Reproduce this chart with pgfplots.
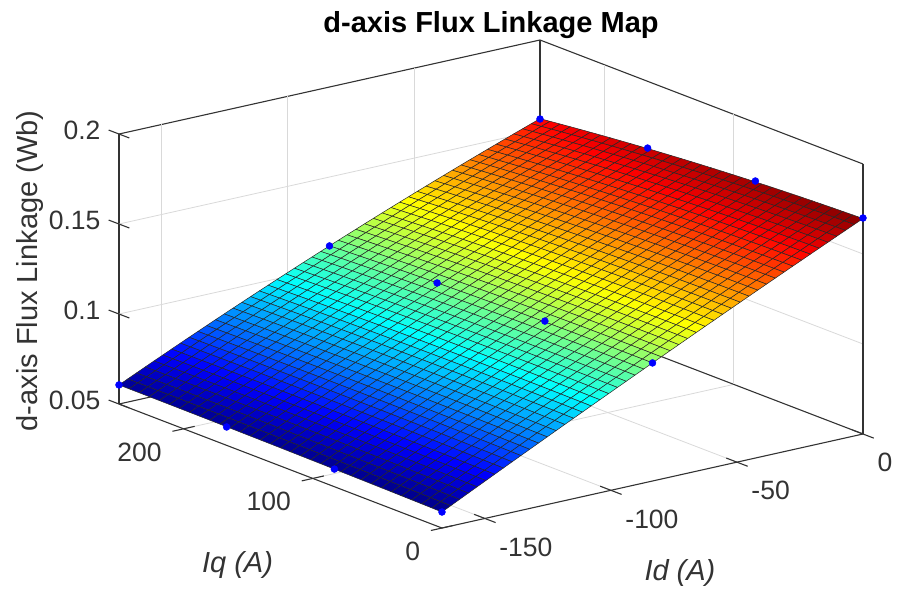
\documentclass[border=0pt]{standalone}
\usepackage{pgfplots}
\usepgfplotslibrary{patchplots}
\pgfplotsset{compat=1.18}
\usepackage{fontspec}
\setmainfont{Liberation Sans}
\definecolor{axc}{gray}{0.2}
\begin{document}
\begin{tikzpicture}[x=1pt,y=1pt]
\path[use as bounding box] (0,0) rectangle (898,590);
\begin{axis}[
  at={(863pt,156pt)},anchor=origin,
  x={(2.521pt,0.563pt)},y={(-1.292pt,0.496pt)},z={(0pt,1800pt)},
  xmin=-167,xmax=0,ymin=0,ymax=250,zmin=0.05,zmax=0.2,
  xtick={-150,-100,-50,0},ytick={0,100,200},ztick={0.05,0.1,0.15,0.2},
  xticklabels={-150,-100,-50,0},yticklabels={0,100,200},zticklabels={0.05,0.1,0.15,0.2},
  xtick pos=lower,ytick pos=lower,ztick pos=left,
  minor xtick={-150,-100,-50},minor ytick={100,200},minor ztick={0.1,0.15},
  grid=minor,minor grid style={gray!30,line width=0.8pt},minor tick length=0pt,
  axis line style={axc,line width=1.1pt},
  major tick style={draw=none},minor tick style={draw=none},
  tick align=center,major tick length=20pt,
  font=\fontsize{26.5}{30}\selectfont,
  tick label style={text=axc,inner sep=0pt},
  xticklabel style={anchor=west,xshift=5pt,yshift=-25pt},
  yticklabel style={anchor=east,xshift=-12pt,yshift=-21pt},
  zticklabel style={anchor=east,xshift=-9pt,yshift=0pt},
  title={d-axis Flux Linkage Map},
  title style={at={(axis cs:0,287.9,0.1945)},anchor=center,font=\fontsize{29}{32}\selectfont\bfseries},
  xlabel={\itshape Id (A)},ylabel={\itshape Iq (A)},zlabel={d-axis Flux Linkage (Wb)},
  every axis x label/.style={at={(axis cs:-72.6,0,-0.0043)},anchor=center,text=axc,font=\fontsize{29}{32}\selectfont},
  every axis y label/.style={at={(axis cs:0,484.1,-0.1561)},anchor=center,text=axc,font=\fontsize{29}{32}\selectfont},
  every axis z label/.style={at={(axis cs:0,644.7,-0.0371)},anchor=center,rotate=90,text=axc,font=\fontsize{29}{32}\selectfont},
  colormap={matjet}{rgb255=(0,0,128) rgb255=(0,0,255) rgb255=(0,128,255) rgb255=(0,255,255) rgb255=(128,255,128) rgb255=(255,255,0) rgb255=(255,128,0) rgb255=(255,0,0) rgb255=(128,0,0)},
  point meta min=0.0585,point meta max=0.1702,
  clip=false,
]
\addplot3[axc,line width=1.1pt,forget plot] coordinates {(-150,-8.3,0.05)(-150,8.3,0.05)};
\addplot3[axc,line width=1.1pt,forget plot] coordinates {(-100,-8.3,0.05)(-100,8.3,0.05)};
\addplot3[axc,line width=1.1pt,forget plot] coordinates {(-50,-8.3,0.05)(-50,8.3,0.05)};
\addplot3[axc,line width=1.1pt,forget plot] coordinates {(0,-8.3,0.05)(0,8.3,0.05)};
\addplot3[axc,line width=1.1pt,forget plot] coordinates {(-171.4,0,0.05)(-162.6,0,0.05)};
\addplot3[axc,line width=1.1pt,forget plot] coordinates {(-171.4,100,0.05)(-162.6,100,0.05)};
\addplot3[axc,line width=1.1pt,forget plot] coordinates {(-171.4,200,0.05)(-162.6,200,0.05)};
\addplot3[axc,line width=1.1pt,forget plot] coordinates {(-167,242,0.05)(-167,258,0.05)};
\addplot3[axc,line width=1.1pt,forget plot] coordinates {(-167,242,0.1)(-167,258,0.1)};
\addplot3[axc,line width=1.1pt,forget plot] coordinates {(-167,242,0.15)(-167,258,0.15)};
\addplot3[axc,line width=1.1pt,forget plot] coordinates {(-167,242,0.2)(-167,258,0.2)};
\addplot3[patch,patch type=biquadratic,patch refines=4,shader=faceted,faceted color=black!85,line width=0.5pt,point meta=z]
 table[header=false,x index=0,y index=1,z index=2]{
-167 0 0.05890
-111.33 0 0.09699
-111.33 125 0.09715
-167 125 0.06009
-139.17 0 0.07809
-111.33 62.5 0.09730
-139.17 125 0.07887
-167 62.5 0.05958
-139.17 62.5 0.07864
-111.33 0 0.09699
-55.67 0 0.13392
-55.67 125 0.13215
-111.33 125 0.09715
-83.5 0 0.11560
-55.67 62.5 0.13342
-83.5 125 0.11490
-111.33 62.5 0.09730
-83.5 62.5 0.11556
-55.67 0 0.13392
0 0 0.16970
0 125 0.16512
-55.67 125 0.13215
-27.83 0 0.15196
0 62.5 0.16794
-27.83 125 0.14889
-55.67 62.5 0.13342
-27.83 62.5 0.15088
-167 125 0.06009
-111.33 125 0.09715
-111.33 250 0.09543
-167 250 0.06060
-139.17 125 0.07887
-111.33 187.5 0.09653
-139.17 250 0.07838
-167 187.5 0.06043
-139.17 187.5 0.07879
-111.33 125 0.09715
-55.67 125 0.13215
-55.67 250 0.12733
-111.33 250 0.09543
-83.5 125 0.11490
-55.67 187.5 0.13012
-83.5 250 0.11175
-111.33 187.5 0.09653
-83.5 187.5 0.11364
-55.67 125 0.13215
0 125 0.16512
0 250 0.15630
-55.67 250 0.12733
-27.83 125 0.14889
0 187.5 0.16124
-27.83 250 0.14218
-55.67 187.5 0.13012
-27.83 187.5 0.14599
};
\addplot3[only marks,mark=*,mark size=3.5pt,mark options={blue,draw=blue}] coordinates {
(-167,0,0.0589)(-167,83.3,0.0598)(-167,166.7,0.0602)(-167,250,0.0606)
(-83.5,0,0.1156)(-83.5,83.3,0.1159)(-83.5,166.7,0.1141)(-83.5,250,0.1117)
(0,0,0.1700)(0,83.3,0.1676)(0,166.7,0.1629)(0,250,0.1561)};
\end{axis}
\end{tikzpicture}
\end{document}
